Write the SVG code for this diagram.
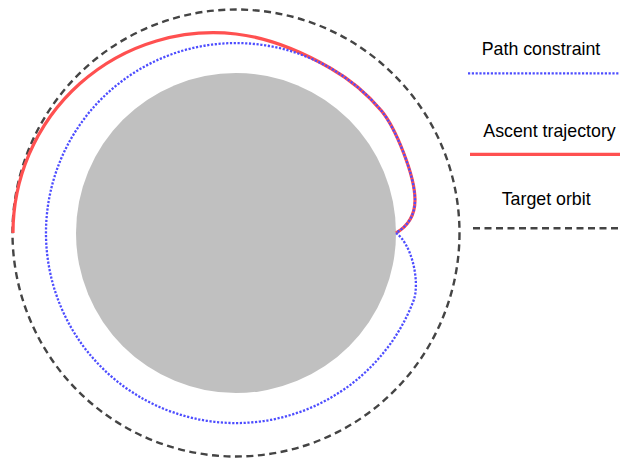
<svg xmlns="http://www.w3.org/2000/svg" width="620" height="459" viewBox="0 0 620 459">
<style>
.orbit{fill:none;stroke:#444;stroke-width:2.4;stroke-dasharray:7 4.5}
.traj{fill:none;stroke:#ff5050;stroke-width:3.2}
.cons{fill:none;stroke:#4d4dff;stroke-width:2.3;stroke-dasharray:2.2 1.6}
.lbl{font-family:"Liberation Sans",Arial,sans-serif;font-size:17.8px;fill:#000}
</style>
<rect width="620" height="459" fill="#fff"/>
<g id="target-orbit"><circle class="orbit" cx="236" cy="233" r="223.5"/></g>
<g id="planet"><circle cx="236" cy="233" r="160" fill="#c0c0c0"/></g>
<g id="connectors">
<path id="ascent" class="traj" d="M13,233 A200.3,200.3 0 0 1 236,34 C269.5,37.8 301.8,51.6 331,68.5 A190,190 0 0 1 381.5,110.9 C395,127 415,175 415,200 C415,215 408,226 396,233"/>
<path id="constraint" class="cons" d="M396,233 C412,244 420,282 413.8,300 A190,190 0 1 1 381.5,110.9 C395,127 415,175 415,200 C415,215 408,226 396,233"/>
</g>
<g id="legend">
<text class="lbl" x="481.7" y="54.5">Path constraint</text>
<line class="cons" x1="468" y1="73.3" x2="620" y2="73.3"/>
<text class="lbl" x="483.3" y="136.5">Ascent trajectory</text>
<line class="traj" x1="470" y1="154.3" x2="620" y2="154.3"/>
<text class="lbl" x="501.7" y="204.5">Target orbit</text>
<line class="orbit" x1="473" y1="228.3" x2="620" y2="228.3"/>
</g>
</svg>
